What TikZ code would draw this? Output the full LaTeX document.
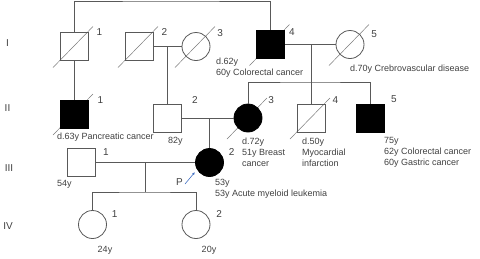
\documentclass[tikz,border=0pt]{standalone}
\usepackage{fontspec}
\setmainfont{Liberation Sans}
\usepackage{xcolor}
\usetikzlibrary{positioning, calc, backgrounds, arrows.meta}

\definecolor{lncol}{HTML}{595959}
\definecolor{txtcol}{HTML}{404040}
\definecolor{pblue}{HTML}{4472C4}

\begin{document}
\begin{tikzpicture}[x=1pt, y=-1pt,
        male/.style={rectangle, draw=lncol, line width=0.8pt, minimum size=28pt, inner sep=0pt},
        female/.style={circle, draw=lncol, line width=0.8pt, minimum size=28pt, inner sep=0pt},
        aff/.style={fill=black, draw=black},
        num/.style={anchor=west, inner sep=0pt, font=\fontsize{10}{12}\selectfont, text=txtcol},
        note/.style={anchor=north west, inner sep=0pt, align=left, font=\fontsize{9}{11}\selectfont, text=txtcol},
        gen/.style={inner sep=0pt, font=\fontsize{10}{12}\selectfont, text=txtcol},
        link/.style={draw=lncol, line width=0.8pt},
        dec/.style={draw=lncol!80, line width=0.5pt},
        proband/.style={draw=pblue, line width=0.6pt, -{Latex[length=3pt,width=2.5pt]}}
        ]
        \useasboundingbox (0,0) rectangle (480,258);

        % Generation labels
        \node[gen] (gI)   at (7.5,43.5) {I};
        \node[gen] (gII)  at (7.5,108)  {II};
        \node[gen] (gIII) at (9,168)    {III};
        \node[gen] (gIV)  at (8,226)    {IV};

        % Generation I
        \node[male]      (i1) at (74,46.5)    {};
        \node[male]      (i2) at (139,46.5)   {};
        \node[female]    (i3) at (196,46.5)   {};
        \node[male, aff] (i4) at (270.5,44.5) {};
        \node[female]    (i5) at (350,44.5)   {};

        % Generation II
        \node[male, aff]   (ii1) at (74,114)    {};
        \node[male]        (ii2) at (167.5,118) {};
        \node[female, aff] (ii3) at (248,118)   {};
        \node[male]        (ii4) at (311,118)   {};
        \node[male, aff]   (ii5) at (370.5,118) {};

        % Generation III
        \node[male]        (iii1) at (81.5,162.5)  {};
        \node[female, aff] (iii2) at (209.5,162.5) {};

        % Generation IV
        \node[female] (iv1) at (92.5,224.5) {};
        \node[female] (iv2) at (196,224.5)  {};

        % deceased
        \begin{scope}[on background layer]
                \foreach \p in {i1,i2,i3,i4,i5,ii1,ii3,ii4} {
                        \draw[dec] ($(\p)+(-21,21)$) -- ($(\p)+(19,-20)$);
                    }
        \end{scope}

        % numbers
        \node[num, right=8pt of i1.north east]              (n-i1) {1};
        \node[num, right=8pt of i2.north east]              (n-i2) {2};
        \node[num, right=11pt of i3.north east, yshift=3pt] (n-i3) {3};
        \node[num, right=4pt of i4.north east, yshift=-2pt] (n-i4) {4};
        \node[num, right=11pt of i5.north east]             (n-i5) {5};
        \node[num, right=9pt of ii1.north east]             (n-ii1) {1};
        \node[num, right=10pt of ii2.north east, yshift=4pt] (n-ii2) {2};
        \node[num, right=10pt of ii3.north east, yshift=8pt] (n-ii3) {3};
        \node[num, right=7pt of ii4.north east, yshift=4pt]  (n-ii4) {4};
        \node[num, right=6pt of ii5.north east, yshift=4pt]  (n-ii5) {5};
        \node[num, right=7pt of iii1.north east, yshift=-4pt] (n-iii1) {1};
        \node[num, right=9pt of iii2.north east]            (n-iii2) {2};
        \node[num, right=9pt of iv1.north east]             (n-iv1) {1};
        \node[num, right=10pt of iv2.north east]            (n-iv2) {2};

        % notes
        \node[note] (t-i4)   at (216,57.5)  {d.62y\\60y Colorectal cancer};
        \node[note] (t-i5)   at (350,65)    {d.70y Crebrovascular disease};
        \node[note] (t-ii1)  at (57,133)    {d.63y Pancreatic cancer};
        \node[note] (t-ii2)  at (168,137.5) {82y};
        \node[note] (t-ii3)  at (242,137.5) {d.72y\\51y Breast\\cancer};
        \node[note] (t-ii4)  at (302,137.5) {d.50y\\Myocardial\\infarction};
        \node[note] (t-ii5)  at (384,137.5) {75y\\62y Colorectal cancer\\60y Gastric cancer};
        \node[note] (t-iii1) at (57,180.5)  {54y};
        \node[note] (t-iii2) at (215,179.5) {53y\\53y Acute myeloid leukemia};
        \node[note, anchor=north] (t-iv1) at (105,246.5) {24y};
        \node[note, anchor=north] (t-iv2) at (209,246.5) {20y};

        % proband
        \node[num, anchor=center] (plabel) at (179.5,182.5) {P};
        \coordinate (ptail) at (185,184);
        \coordinate (ptip)  at (195,172);
        \draw[proband] (ptail) -- (ptip);

        % lines of descent
        \coordinate (top)  at (170,1);
        \coordinate (m1)   at (167.5,46.5);
        \coordinate (m2)   at (209.5,118);
        \coordinate (m3)   at (311,44.5);
        \coordinate (sib1) at (311,82);
        \coordinate (m4)   at (145,162.5);
        \coordinate (sib2) at (145,192);

        \draw[link] (i1.north) |- (top) -| (i4.north);
        \draw[link] (i1) -- (ii1);
        \draw[link] (i2) -- (i3);
        \draw[link] (m1) -- (ii2);
        \draw[link] (i4) -- (i5);
        \draw[link] (m3) -- (ii4);
        \draw[link] (ii3.north) |- (sib1) -| (ii5.north);
        \draw[link] (ii2) -- (ii3);
        \draw[link] (m2) -- (iii2);
        \draw[link] (iii1) -- (iii2);
        \draw[link] (m4) -- (sib2);
        \draw[link] (iv1.north) |- (sib2) -| (iv2.north);
    \end{tikzpicture}
\end{document}
